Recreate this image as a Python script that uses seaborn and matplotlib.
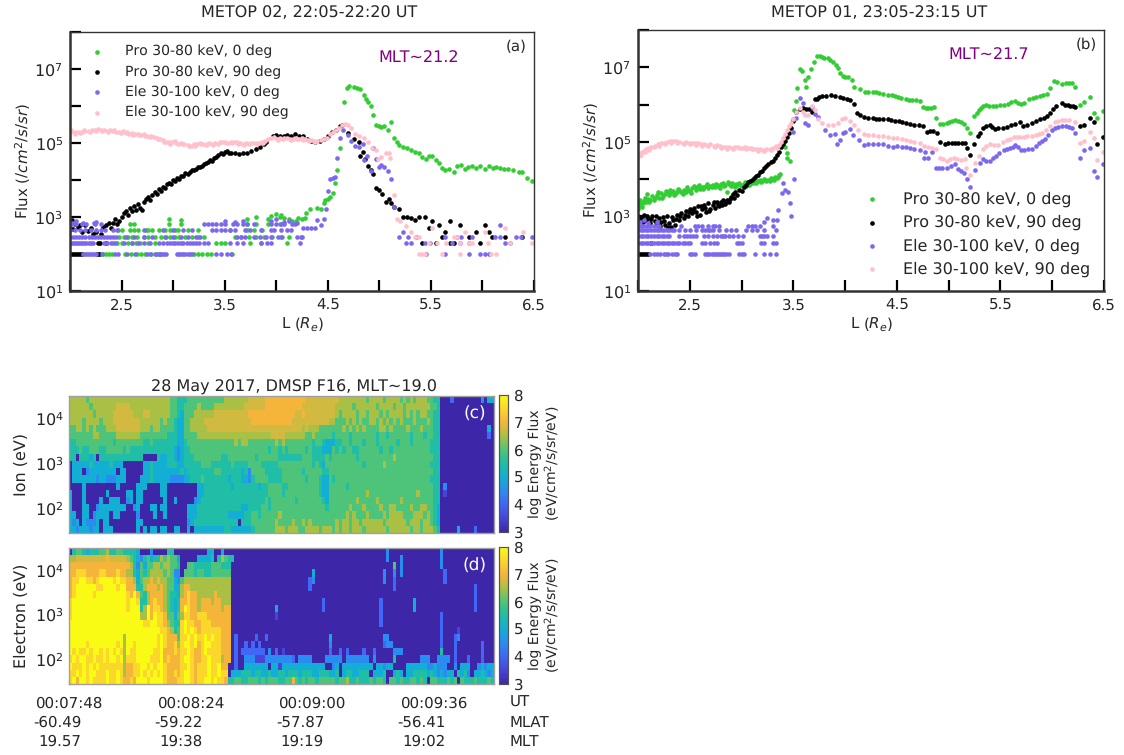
"""
Energetic particle flux from METOP and DMSP spectrograms, 28 May 2017.
"""

import numpy as np
import pandas as pd
import matplotlib
matplotlib.use('Agg')
import matplotlib.pyplot as plt
from matplotlib.colors import LinearSegmentedColormap
import seaborn as sns

# Values are (L, log10 flux). The *_low dicts are the quantised count levels: {log10 flux: [L, ...]}
a_pro0 = [(2.96,2.95),(3.08,2.92),(3.72,2.95),(3.8,3.0),(3.92,2.95),(3.95,3.02),(4.0,3.08),(4.04,3.0),(4.05,3.05),(4.08,2.98),(4.12,2.95),(4.15,2.9),(4.19,2.9),(4.21,2.96),(4.25,2.94),(4.28,2.96),(4.29,3.1),(4.33,3.21),(4.4,3.24),(4.43,3.21),(4.46,3.37),(4.47,3.46),(4.5,3.5),(4.52,3.55),(4.55,3.66),(4.57,3.93),(4.59,4.27),(4.62,4.86),(4.66,6.12),(4.69,6.48),(4.71,6.54),(4.75,6.52),(4.78,6.5),(4.81,6.45),(4.85,6.3),(4.87,6.2),(4.89,6.12),(4.92,6.0),(4.94,5.76),(4.97,5.49),(5.0,5.46),(5.02,5.44),(5.05,5.46),(5.08,5.35),(5.11,5.56),(5.14,5.13),(5.17,5.04),(5.19,4.95),(5.23,4.9),(5.27,4.86),(5.31,4.81),(5.35,4.75),(5.38,4.74),(5.41,4.63),(5.45,4.57),(5.48,4.66),(5.51,4.66),(5.55,4.54),(5.58,4.47),(5.61,4.33),(5.64,4.27),(5.68,4.29),(5.72,4.22),(5.75,4.38),(5.79,4.41),(5.83,4.29),(5.86,4.36),(5.9,4.38),(5.94,4.32),(5.98,4.38),(6.02,4.29),(6.06,4.38),(6.1,4.32),(6.13,4.36),(6.17,4.32),(6.21,4.3),(6.25,4.29),(6.3,4.27),(6.35,4.21),(6.38,4.21),(6.43,4.05),(6.48,3.96)]
a_pro0_low = {
    2.0: [2.16,2.29,2.32,2.35,2.38,2.41,2.53,2.59,2.65,2.69,2.73,2.79,2.83,2.87,3.2,3.24,3.28,3.33,3.37,3.57],
    2.29: [2.28,2.42,2.46,2.5,2.56,2.6,2.64,2.68,2.76,2.82,3.42,3.46,3.5,3.75,3.85,4.1],
    2.47: [2.48,2.52,2.56,2.6,2.65,2.72,2.76,2.82,2.88,2.93,2.97,3.02,3.06,3.12,3.18,3.24,3.3,3.6,3.66,3.74,3.8,3.88,3.96,4.06,4.12],
    2.65: [2.47,2.5,2.58,2.62,2.66,2.74,2.76,2.8,2.86,2.92,2.97,3.02,3.05,3.14,3.24,3.55,3.72,3.78,3.86],
    2.81: [2.58,2.62,2.96,3.08,3.72,3.8,3.92,4.04],
}
a_pro90 = [(2.0,2.85),(2.0,2.7),(2.02,2.93),(2.03,2.68),(2.05,2.8),(2.08,2.72),(2.1,2.78),(2.12,2.6),(2.15,2.78),(2.17,2.62),(2.2,2.7),(2.22,2.55),(2.25,2.6),(2.3,2.55),(2.32,2.72),(2.35,2.78),(2.38,2.85),(2.4,2.7),(2.42,2.85),(2.44,2.95),(2.46,2.8),(2.48,2.9),(2.5,3.0),(2.52,3.1),(2.54,3.15),(2.56,3.05),(2.58,3.25),(2.6,3.15),(2.62,3.3),(2.64,3.2),(2.66,3.35),(2.68,3.25),(2.7,3.2),(2.72,3.4),(2.74,3.5),(2.76,3.55),(2.78,3.45),(2.8,3.6),(2.82,3.68),(2.84,3.62),(2.86,3.75),(2.88,3.7),(2.9,3.82),(2.92,3.78),(2.94,3.9),(2.96,3.92),(2.98,3.88),(3.0,4.0),(3.02,3.98),(3.04,4.05),(3.06,4.03),(3.08,4.12),(3.1,4.1),(3.12,4.18),(3.14,4.15),(3.16,4.22),(3.18,4.27),(3.2,4.28),(3.22,4.3),(3.24,4.35),(3.26,4.35),(3.28,4.38),(3.3,4.42),(3.32,4.45),(3.34,4.48),(3.36,4.55),(3.38,4.52),(3.4,4.6),(3.42,4.62),(3.44,4.68),(3.46,4.72),(3.48,4.7),(3.5,4.75),(3.52,4.78),(3.54,4.73),(3.56,4.72),(3.6,4.72),(3.64,4.7),(3.68,4.72),(3.72,4.74),(3.76,4.78),(3.8,4.84),(3.84,4.9),(3.88,4.97),(3.9,5.02),(3.97,5.2),(4.0,5.21),(4.04,5.2),(4.08,5.18),(4.1,5.22),(4.14,5.2),(4.18,5.23),(4.22,5.2),(4.26,5.18),(4.3,5.1),(4.34,5.05),(4.38,5.02),(4.42,5.05),(4.46,5.1),(4.5,5.2),(4.54,5.3),(4.58,5.35),(4.62,5.45),(4.64,5.49),(4.7,5.26),(4.75,5.12),(4.8,5.04),(4.84,4.76),(4.81,4.66),(4.86,4.57),(4.89,4.38),(4.92,4.27),(4.94,4.16),(4.97,3.78),(5.0,3.73),(5.03,3.61),(5.06,3.41),(5.09,3.48),(5.11,3.39),(5.14,3.28),(5.19,3.21),(5.23,3.01),(5.27,3.01),(5.31,2.96),(5.35,2.92),(5.38,3.01),(5.44,3.01),(5.51,2.9),(5.48,2.69),(5.58,2.78),(5.69,2.9),(5.78,2.78),(5.64,2.6),(5.61,2.47),(5.87,2.47),(5.94,2.6),(6.02,2.78),(6.06,2.6),(6.09,2.47),(6.22,2.47),(6.38,2.47),(5.41,2.29),(5.55,2.29),(5.69,2.29),(5.72,2.29),(5.98,2.29)]
a_pro90_low = {
    2.0: [2.0,2.02,2.04,2.06,2.08,2.1,2.12,2.26,2.28],
    2.29: [2.27,2.29,2.35],
}
a_ele0 = [(2.02,2.85),(2.06,2.9),(2.13,2.85),(2.23,2.83),(2.25,2.87),(3.5,2.9),(3.6,2.86),(3.68,2.9),(3.95,2.88),(4.0,2.95),(4.08,2.86),(4.12,2.9),(4.2,2.85),(4.23,2.29),(4.25,2.47),(4.26,2.69),(4.3,2.69),(4.34,2.69),(4.38,2.69),(4.43,2.78),(4.46,2.94),(4.4,2.92),(4.48,3.21),(4.5,3.7),(4.52,4.03),(4.55,4.06),(4.57,4.07),(4.59,4.59),(4.62,5.13),(4.65,5.35),(4.7,5.22),(4.73,5.06),(4.76,4.93),(4.8,4.9),(4.84,4.97),(4.88,4.66),(4.85,4.54),(4.92,4.23),(4.94,4.87),(4.97,4.57),(5.0,4.36),(5.02,4.41),(5.05,4.36),(5.08,4.25),(5.11,4.03),(5.14,3.28),(5.23,2.6),(6.17,2.78)]
a_ele0_low = {
    2.0: [2.13,2.15,2.17,2.19,2.21,2.23,2.25,2.31,2.44,2.47,2.55,2.63,2.75,2.78,2.82,2.85,2.87,2.89,2.91,2.93,3.04,3.06,3.08,3.1,3.12,3.14,3.16,3.18,3.42,3.46,3.52,3.56,5.45,5.64,5.87,5.98,6.02,6.06],
    2.29: [2.0,2.02,2.04,2.06,2.08,2.1,2.12,2.14,2.16,2.18,2.2,2.22,2.33,2.36,2.4,2.44,2.52,2.6,2.66,2.72,2.78,2.86,2.9,2.94,2.97,3.0,3.02,3.05,3.08,3.1,3.13,3.16,3.19,3.22,3.25,3.3,3.34,3.55,3.62,3.68,3.85,3.91,3.95,5.26,5.31,5.44,5.49,5.7,5.78,5.87,6.22,6.27],
    2.47: [2.0,2.03,2.06,2.09,2.12,2.15,2.18,2.21,2.24,2.27,2.3,2.33,2.36,2.39,2.42,2.45,2.54,2.62,2.72,2.8,2.92,3.0,3.08,3.14,3.22,3.26,3.62,3.66,3.7,3.78,3.84,3.9,3.95,4.02,4.05,4.2,4.24,5.19,5.28,5.36,5.64,5.75,5.79,5.9,6.12,6.17,6.33,6.37,6.48],
    2.65: [2.0,2.05,2.1,2.15,2.2,2.25,2.3,2.34,2.42,2.46,2.72,2.9,3.0,3.1,3.18,3.38,3.42,3.46,3.5,3.55,3.6,3.7,3.75,3.85,3.95,3.98,4.05,4.1,4.14],
    2.81: [2.02,2.06,2.12,2.16,2.24,2.3,3.3,3.34,3.38,3.42,3.46,3.5,3.58,3.62,3.68,3.72,3.78,3.95,4.0,4.05,4.08,4.15,4.18],
}
a_ele90 = [(2.0,5.32),(2.03,5.3),(2.06,5.29),(2.09,5.31),(2.12,5.29),(2.15,5.32),(2.18,5.33),(2.21,5.34),(2.24,5.36),(2.27,5.37),(2.3,5.36),(2.33,5.34),(2.36,5.33),(2.39,5.35),(2.42,5.32),(2.45,5.3),(2.48,5.31),(2.51,5.33),(2.54,5.27),(2.57,5.25),(2.6,5.27),(2.63,5.24),(2.66,5.25),(2.69,5.22),(2.72,5.23),(2.75,5.18),(2.78,5.15),(2.81,5.17),(2.84,5.14),(2.87,5.1),(2.9,5.07),(2.93,5.04),(2.96,5.02),(2.99,5.03),(3.02,5.06),(3.05,4.98),(3.08,5.0),(3.11,4.97),(3.14,4.95),(3.17,4.93),(3.2,4.96),(3.23,4.98),(3.26,5.0),(3.29,4.97),(3.32,4.95),(3.35,5.0),(3.38,4.97),(3.41,4.99),(3.44,4.98),(3.47,5.02),(3.5,5.02),(3.53,5.0),(3.56,5.03),(3.59,5.03),(3.62,5.02),(3.65,5.0),(3.68,4.98),(3.71,5.0),(3.74,4.97),(3.77,4.99),(3.8,5.01),(3.83,4.99),(3.86,5.03),(3.89,5.06),(3.92,5.1),(3.95,5.13),(3.98,5.15),(4.01,5.12),(4.04,5.14),(4.07,5.1),(4.1,5.13),(4.13,5.11),(4.16,5.12),(4.19,5.14),(4.22,5.12),(4.25,5.13),(4.28,5.1),(4.31,5.08),(4.34,5.07),(4.37,5.05),(4.4,5.06),(4.43,5.08),(4.46,5.1),(4.49,5.13),(4.52,5.24),(4.55,5.3),(4.58,5.35),(4.61,5.4),(4.64,5.49),(4.67,5.52),(4.7,5.48),(4.73,5.4),(4.76,5.24),(4.8,5.19),(4.85,5.13),(4.89,5.04),(4.93,4.86),(4.97,4.81),(4.99,4.58),(5.02,4.63),(5.06,4.74),(5.09,4.74),(5.1,4.6),(5.14,3.6),(5.17,2.95),(5.2,2.9),(5.26,2.77),(5.31,2.6),(5.51,2.69),(5.83,2.6),(6.02,2.6),(6.22,2.69),(6.39,2.6),
           (2.01,5.36),(2.05,5.25),(2.1,5.27),(2.14,5.36),(2.19,5.29),(2.25,5.32),(2.31,5.32),(2.37,5.29),(2.43,5.36),(2.49,5.27),(2.55,5.3),(2.61,5.22),(2.67,5.21),(2.73,5.19),(2.79,5.19),(2.85,5.1),(2.91,5.03),(2.97,4.98),(3.03,5.01),(3.09,4.96),(3.15,4.91),(3.21,4.93),(3.27,4.96),(3.33,4.98),(3.39,4.94),(3.45,5.04),(3.51,4.99),(3.57,5.0),(3.63,4.98),(3.69,4.95),(3.75,5.0),(3.81,4.97),(3.87,5.0),(4.02,5.09),(4.08,5.14),(4.14,5.09),(4.2,5.1),(4.26,5.09),(4.32,5.05),(4.38,5.03)]
a_ele90_low = {
    2.0: [5.38,5.41,5.44,5.61,5.78,6.08,6.13],
    2.29: [5.48,5.56,5.65,5.78,5.87,5.9,6.05,6.27,6.48],
    2.47: [5.35,5.38,5.72,5.75],
}

b_pro0 = [(2.0,3.2),(2.0,3.4),(2.01,3.28),(2.02,3.45),(2.03,3.35),(2.05,3.35),(2.06,3.42),(2.08,3.4),(2.09,3.6),(2.1,3.48),(2.12,3.45),(2.14,3.55),(2.16,3.5),(2.18,3.58),(2.2,3.5),(2.22,3.62),(2.24,3.55),(2.26,3.6),(2.28,3.65),(2.3,3.58),(2.32,3.63),(2.34,3.68),(2.36,3.6),(2.38,3.65),(2.4,3.7),(2.42,3.65),(2.44,3.72),(2.46,3.66),(2.48,3.72),(2.5,3.68),(2.52,3.75),(2.54,3.82),(2.56,3.72),(2.58,3.78),(2.6,3.73),(2.62,3.8),(2.64,3.78),(2.66,3.82),(2.68,3.75),(2.7,3.82),(2.72,3.85),(2.74,3.78),(2.76,3.85),(2.78,3.8),(2.8,3.88),(2.82,3.9),(2.84,3.85),(2.86,3.65),(2.88,3.87),(2.9,3.82),(2.92,3.85),(2.94,3.8),(2.96,3.85),(2.98,3.9),(3.0,3.85),(3.02,3.87),(3.04,3.82),(3.06,3.92),(3.08,3.88),(3.1,3.95),(3.12,3.92),(3.14,3.9),(3.16,3.96),(3.18,3.98),(3.2,3.95),(3.22,4.0),(3.24,3.95),(3.26,3.98),(3.28,4.02),(3.3,4.0),(3.32,4.05),(3.34,4.02),(3.36,4.1),(3.37,4.15),(3.42,4.87),(3.44,4.56),(3.47,4.5),(3.44,4.7),(3.5,5.6),(3.51,5.85),(3.53,6.1),(3.54,6.45),(3.56,6.95),(3.58,6.9),(3.61,6.66),(3.62,6.46),(3.64,6.73),(3.67,6.95),(3.7,7.15),(3.73,7.31),(3.78,7.28),(3.83,7.24),(3.88,7.15),(3.93,6.97),(3.98,6.76),(4.03,6.75),(4.07,6.66),(4.09,6.46),(4.14,6.41),(4.19,6.33),(4.27,6.33),(4.37,6.28),(4.45,6.27),(4.51,6.19),(4.59,6.14),(4.72,6.1),(4.75,5.93),(4.8,5.9),(4.86,5.94),(4.88,5.65),(4.92,5.47),(4.98,5.5),(5.06,5.59),(5.12,5.54),(5.15,5.48),(5.18,5.36),(5.21,5.23),(5.24,5.7),(5.29,5.85),(5.33,5.96),(5.43,5.97),(5.53,5.99),(5.64,6.1),(5.7,6.01),(5.78,6.14),(5.88,6.23),(5.95,6.28),(5.98,6.44),(6.02,6.63),(6.09,6.55),(6.19,6.59),(6.22,6.48),(6.27,5.99),(6.31,6.08),(6.36,6.19),(6.4,5.77),(6.43,5.63),(6.49,5.84),
          (3.76,7.3),(3.8,7.26),(3.85,7.2),(3.91,7.05),(3.95,6.85),(4.0,6.75),(4.22,6.34),(4.3,6.33),(4.33,6.3),(4.41,6.27),(4.48,6.23),(4.54,6.18),(4.62,6.13),(4.65,6.12),(4.68,6.11),(4.78,5.91),(4.83,5.91),(4.95,5.48),(5.0,5.52),(5.03,5.57),(5.09,5.56),(5.27,5.78),(5.31,5.92),(5.36,5.98),(5.39,5.97),(5.46,5.97),(5.5,5.98),(5.57,6.02),(5.6,6.06),(5.67,6.05),(5.73,6.05),(5.81,6.17),(5.84,6.2),(5.91,6.26),(6.05,6.6),(6.13,6.57),(6.16,6.58),
          (2.0,3.3),(2.04,3.25),(2.07,3.5),(2.11,3.38),(2.15,3.45),(2.19,3.66),(2.23,3.5),(2.27,3.68),(2.31,3.7),(2.35,3.58),(2.39,3.74),(2.43,3.6),(2.47,3.78),(2.51,3.62),(2.55,3.78),(2.59,3.85),(2.63,3.73),(2.67,3.88),(2.71,3.78),(2.75,3.88),(2.79,3.75),(2.83,3.82),(2.87,3.92),(2.91,3.9),(2.95,3.88),(2.99,3.82),(3.03,3.92),(3.07,3.85),(3.11,3.9),(3.15,3.94),(3.19,3.92),(3.23,3.97),(3.27,3.94),(3.31,3.97),(3.35,4.06)]
b_pro90 = [(2.0,3.0),(2.02,2.98),(2.04,2.95),(2.06,3.05),(2.08,2.9),(2.1,2.95),(2.12,2.82),(2.14,3.02),(2.16,2.88),(2.18,2.8),(2.2,2.95),(2.22,2.85),(2.24,2.98),(2.26,2.78),(2.28,3.0),(2.3,2.82),(2.32,2.72),(2.34,2.9),(2.36,2.78),(2.38,3.05),(2.4,2.9),(2.42,3.1),(2.44,2.95),(2.46,3.15),(2.48,3.02),(2.5,3.2),(2.52,3.08),(2.54,3.22),(2.56,3.12),(2.58,3.28),(2.6,3.05),(2.62,3.2),(2.64,3.3),(2.66,3.12),(2.68,3.35),(2.7,3.2),(2.72,3.3),(2.74,3.22),(2.76,3.4),(2.78,3.28),(2.8,3.38),(2.82,3.45),(2.84,3.33),(2.86,3.45),(2.88,3.38),(2.9,3.52),(2.92,3.6),(2.94,3.65),(2.96,3.58),(2.98,3.72),(3.0,3.68),(3.02,3.8),(3.04,3.85),(3.06,3.92),(3.08,3.95),(3.1,3.98),(3.12,4.02),(3.14,4.08),(3.16,4.12),(3.18,4.18),(3.2,4.22),(3.22,4.3),(3.24,4.35),(3.26,4.4),(3.28,4.45),(3.3,4.5),(3.32,4.58),(3.34,4.65),(3.36,4.72),(3.38,4.85),(3.4,4.95),(3.42,5.02),(3.44,5.12),(3.46,5.25),(3.48,5.38),(3.5,5.55),(3.53,5.8),(3.56,5.88),(3.59,5.9),(3.62,5.87),(3.65,5.88),(3.68,5.8),(3.71,6.14),(3.73,6.15),(3.75,6.2),(3.78,6.22),(3.82,6.24),(3.86,6.25),(3.9,6.22),(3.95,6.19),(4.05,6.12),(4.09,6.01),(4.11,5.78),(4.18,5.67),(4.27,5.63),(4.37,5.61),(4.48,5.57),(4.59,5.5),(4.75,5.43),(4.79,5.27),(4.85,5.3),(4.89,5.25),(4.92,5.0),(4.96,4.94),(5.03,4.98),(5.09,4.98),(5.16,4.98),(5.18,4.83),(5.21,4.65),(5.24,4.94),(5.28,5.16),(5.33,5.38),(5.4,5.45),(5.45,5.34),(5.56,5.41),(5.69,5.54),(5.72,5.43),(5.88,5.6),(5.98,5.77),(6.04,5.96),(6.09,6.05),(6.17,5.96),(6.22,5.93),(6.27,5.43),(6.31,5.44),(6.36,5.63),(6.4,5.52),(6.43,4.94),(6.49,5.12),
           (4.14,5.72),(4.22,5.65),(4.3,5.62),(4.33,5.62),(4.41,5.6),(4.44,5.58),(4.52,5.55),(4.55,5.53),(4.63,5.48),(4.67,5.46),(4.71,5.45),(4.82,5.29),(4.99,4.96),(5.06,4.98),(5.13,4.98),(5.3,5.25),(5.36,5.42),(5.42,5.4),(5.48,5.36),(5.52,5.38),(5.6,5.44),(5.64,5.47),(5.76,5.45),(5.8,5.5),(5.84,5.55),(5.92,5.64),(5.95,5.7),(6.01,5.87),(6.12,6.0),(6.15,5.98),(6.2,5.95),(3.98,6.18),(4.02,6.15),
           (2.01,2.88),(2.05,2.85),(2.09,3.02),(2.13,2.92),(2.17,3.0),(2.21,2.75),(2.25,2.88),(2.29,2.72),(2.33,2.98),(2.37,2.92),(2.41,3.0),(2.45,3.05),(2.49,3.12),(2.53,3.18),(2.57,3.02),(2.61,3.28),(2.65,3.22),(2.69,3.15),(2.73,3.4),(2.77,3.3),(2.81,3.3),(2.85,3.38),(2.89,3.48),(2.93,3.5)]
b_pro90_low = {
    2.0: [2.0,2.02,2.04,2.06,2.08,2.1],
    2.3: [2.13],
}
b_ele0 = [(2.02,2.85),(2.06,2.9),(2.1,2.82),(2.18,2.85),(3.22,2.85),(3.25,2.95),(3.3,2.9),(3.34,2.9),(3.35,3.17),(3.39,3.62),(3.4,3.89),(3.42,3.71),(3.45,3.66),(3.47,3.35),(3.48,3.0),(3.51,4.0),(3.5,5.27),(3.53,5.63),(3.56,6.17),(3.59,6.03),(3.61,5.5),(3.64,5.45),(3.68,5.94),(3.71,5.76),(3.74,5.68),(3.81,5.32),(3.85,5.18),(3.9,5.2),(3.92,4.93),(3.95,5.05),(3.98,5.23),(4.0,5.27),(4.05,5.34),(4.08,5.18),(4.13,5.05),(4.18,4.92),(4.27,4.94),(4.37,4.93),(4.46,4.87),(4.59,4.87),(4.67,4.81),(4.72,4.78),(4.77,4.74),(4.76,4.57),(4.8,4.58),(4.84,4.72),(4.88,4.31),(4.98,4.31),(5.06,4.4),(5.09,4.27),(5.15,4.17),(5.18,4.0),(5.21,3.78),(5.25,4.25),(5.3,4.42),(5.33,4.53),(5.4,4.5),(5.46,4.62),(5.53,4.78),(5.59,4.83),(5.64,4.92),(5.7,4.78),(5.8,4.81),(5.87,4.96),(5.93,5.09),(6.0,5.32),(6.09,5.43),(6.19,5.36),(6.22,5.25),(6.27,4.58),(6.31,4.78),(6.36,4.83),(6.4,4.23),(6.43,4.07),(6.49,4.4),
          (4.22,4.93),(4.32,4.94),(4.41,4.9),(4.5,4.88),(4.55,4.87),(4.63,4.84),(4.91,4.31),(4.94,4.3),(5.02,4.36),(5.12,4.23),(5.36,4.5),(5.43,4.56),(5.49,4.7),(5.56,4.8),(5.62,4.87),(5.67,4.85),(5.73,4.79),(5.77,4.8),(5.84,4.9),(5.9,5.03),(5.96,5.18),(6.03,5.37),(6.06,5.4),(6.13,5.42),(6.16,5.4)]
b_ele0_low = {
    2.0: [2.12,2.15,2.18,2.21,2.25,2.27,2.29,2.33,2.36,2.38,2.5,2.52,2.55,2.65,2.67,2.69,2.71,2.73,2.75,2.77,2.79,2.81,2.83,2.85,2.88,2.98,3.0,3.02,3.13,3.22,3.27,3.33],
    2.3: [2.0,2.03,2.05,2.08,2.1,2.13,2.15,2.18,2.2,2.23,2.25,2.28,2.3,2.33,2.35,2.38,2.4,2.43,2.45,2.48,2.5,2.62,2.65,2.7,2.73,2.76,2.96,2.98,3.0,3.19,3.22,3.3,3.33],
    2.48: [2.0,2.03,2.05,2.08,2.1,2.13,2.15,2.18,2.2,2.23,2.25,2.28,2.3,2.4,2.44,2.47,2.5,2.53,2.56,2.64,2.68,2.72,2.76,2.8,2.82,2.84,2.88,2.92,2.97,3.01,3.18,3.2,3.22,3.25,3.3],
    2.64: [2.0,2.03,2.05,2.08,2.1,2.13,2.15,2.18,2.2,2.23,2.25,2.28,2.3,2.33,2.35,2.4,2.45,2.5,2.56,2.62,2.65,2.68,2.7,2.72,2.78,2.85,2.9,2.95,3.04,3.1,3.15,3.22,3.33],
    2.75: [2.0,2.03,2.06,2.09,2.12,2.15,2.18,2.2,2.42,2.55,2.58,2.62,2.68,2.72,2.74,2.78,3.06,3.1,3.13,3.18,3.3],
}
b_ele90 = [(2.0,4.65),(2.02,4.7),(2.04,4.73),(2.06,4.76),(2.08,4.8),(2.1,4.83),(2.13,4.86),(2.16,4.9),(2.19,4.93),(2.22,4.96),(2.25,4.98),(2.28,5.0),(2.31,5.01),(2.34,5.02),(2.37,5.02),(2.4,5.0),(2.43,4.98),(2.46,5.0),(2.49,4.97),(2.52,4.98),(2.55,4.96),(2.58,4.97),(2.61,4.93),(2.64,4.94),(2.67,4.92),(2.7,4.93),(2.73,4.9),(2.76,4.91),(2.79,4.88),(2.82,4.86),(2.85,4.85),(2.88,4.86),(2.91,4.83),(2.94,4.85),(2.97,4.87),(3.0,4.84),(3.03,4.85),(3.06,4.83),(3.09,4.84),(3.12,4.81),(3.15,4.8),(3.18,4.8),(3.21,4.78),(3.24,4.8),(3.27,4.82),(3.3,4.83),(3.33,4.88),(3.36,4.92),(3.38,5.0),(3.4,5.1),(3.42,5.22),(3.44,5.32),(3.46,5.42),(3.48,5.5),(3.5,5.6),(3.53,5.81),(3.56,5.9),(3.59,5.8),(3.61,5.72),(3.64,5.72),(3.68,5.96),(3.71,5.85),(3.74,5.6),(3.78,5.5),(3.83,5.46),(3.88,5.45),(3.93,5.5),(3.97,5.6),(4.0,5.63),(4.05,5.57),(4.09,5.45),(4.12,5.32),(4.18,5.2),(4.27,5.18),(4.37,5.16),(4.46,5.11),(4.59,5.05),(4.72,4.96),(4.8,4.85),(4.88,4.81),(4.92,4.57),(5.01,4.54),(5.08,4.54),(5.16,4.53),(5.17,4.29),(5.21,4.11),(5.25,4.44),(5.33,4.81),(5.4,4.94),(5.48,4.92),(5.59,5.09),(5.69,5.14),(5.8,5.16),(5.9,5.23),(5.98,5.43),(6.03,5.54),(6.12,5.59),(6.22,5.52),(6.27,4.98),(6.31,5.02),(6.36,5.27),(6.4,5.11),(6.43,4.51),(6.49,4.72),
           (4.22,5.19),(4.32,5.17),(4.41,5.14),(4.5,5.1),(4.55,5.07),(4.63,5.02),(4.67,5.0),(4.76,4.9),(4.84,4.83),(4.95,4.55),(4.98,4.5),(5.05,4.57),(5.12,4.52),(5.29,4.62),(5.36,4.88),(5.44,4.92),(5.52,5.0),(5.56,5.05),(5.63,5.12),(5.66,5.13),(5.73,5.13),(5.76,5.16),(5.84,5.18),(5.87,5.2),(5.94,5.32),(6.06,5.57),(6.09,5.58),(6.16,5.58),
           (2.0,4.6),(2.03,4.66),(2.07,4.72),(2.11,4.78),(2.15,4.85),(2.2,4.88),(2.26,4.94),(2.32,4.97),(2.38,4.98),(2.44,4.94),(2.5,4.93),(2.56,4.92),(2.62,4.89),(2.68,4.88),(2.74,4.86),(2.8,4.84),(2.86,4.81),(2.92,4.8),(2.98,4.83),(3.04,4.81),(3.1,4.8),(3.16,4.76),(3.22,4.75),(3.28,4.78),(3.34,4.84)]

# DMSP channel energies (eV), highest first
energy_ev = [30000, 20400, 13900, 9450, 6460, 4400, 3000, 2040, 1392, 949, 646, 440, 300, 204, 139, 95, 65, 44, 30]
energy_edges = (4.49, 1.44)  # log10 eV at the top and bottom of the axis

# One character per second, groups of ten: 0..9, a mean log flux 3.0..8.0 in half steps, b is 6.75
ion_rows = [
    "7777767777 7777777777 7777777777 6655566666 6666667777 777bbbbb88 8888888888 bbbbbbbbbb 7777777767 7776777767 6767776655 0002000000 003044",
    "7777776777 7777bbbb77 7777777777 6655666676 6667777777 77bbbbbb88 888888888b bbbbbbbbb7 7777677777 7677776776 7777777665",
    "7777777677 777bbbbbb7 77bb777777 6654666777 777bbbbbbb bbb8888888 8888888bb8 bbbbbbbbb7 6777767767 7767677776 7676776655",
    "7777677776 777bbbbbbb b777777676 6544667777 bbbbbbbbbb bbbb888888 888888bbbb bbbbbbb776 6676767667 7676767676 6676667655",
    "6677676766 6777bbbbbb b777677666 6544667777 7bbbbbbbbb bbbbbbbbbb bbbbbbbbb7 b777666666 6767676766 6677676666 7666766655 0000000000 000040",
    "6666666776 6666777777 7666666665 5544666677 7777777777 7777777777 bbbb777777 6676666656 6665666666 6566566666 6566656655 0000000000 000020",
    "5566666666 6665666666 6655655555 5544566666 6666666667 6776666666 6767666666 6656654445 5665666566 6566666566 6566666555",
    "5556556665 5666665655 5555555555 5434556666 6666666666 6666666665 6656566666 5655544465 6566556666 6656656666 6666666555",
    "5505554505 5555555555 5500005445 5434555666 6666655666 6666656666 6655555556 6655556566 6666656666 6666667666 6666666655",
    "0444445444 4454440000 0044544445 5544555556 6655555565 5556666555 5566666666 6656546666 6666666566 6667666666 6666666555",
    "0444034444 4444044000 0044544444 4445455555 5556655555 5453666655 5556666665 6666655666 6666666666 6666666666 6666666655",
    "0444444434 4333444000 0444544444 3333445556 5555555455 5443566665 5556666666 5666544656 6666666666 6666666666 6666666555",
    "0000400000 0000400000 4440000440 0000000044 5555555545 5555554556 6665566666 6666544666 6656666666 6666666666 6666666655 0300000000",
    "4000400000 0400000440 4400000440 0000000044 5555555555 5555555556 6665666666 6666544666 6666666676 6666666666 6667666655 0100000000",
    "4000400004 0044400340 4400000040 0400000345 5555555555 5555555565 6666666566 6666654666 6666676666 6766666676 6666666655",
    "4000440034 4444444003 4000440440 0000044455 5555555555 5445555665 6666666666 6666665666 6667666766 6676677666 6766776654",
    "4400440344 4404400000 3000040040 0000044455 5555555444 4455665666 6676666666 6666666666 6676766676 6667677776 6677767654",
    "4340433340 4400000000 4400000000 0000034555 5555555555 0555666666 6766667667 6766666667 6776776777 7776777777 6777677654",
    "4434443440 4440000000 4040440440 0440040444 4444445544 4444566666 6777677766 7777677767 6776777677 7777677777 7677677765 0000040000 200000",
]
ele_rows = [
    "0566545556 6755665555 4000300005 5000000000 0440040000 0000000000 0000000000 0000000000 0000000000 0000300000 0000000000 3000000000",
    "77bbbbbbbb b8bbbbb765 4356455767 6640000044 4450576550 0000000000 0000000000 0000000000 0000000000 0000300030 0000000000 3000000000",
    "8888888888 8888888875 3646677677 6650066555 5566655500 0000000000 0000000000 0000000000 0000000000 0000006030 0000000000 3000000000",
    "8899988889 9888988775 4656777767 6330666566 5566666600 0000000000 0000000000 0040000000 0000000000 0003003030 0000000000 0200000000",
    "899aa9989a aaa9a99887 4677878776 6436777777 7777777700 0000000000 0000000000 0230000000 0000000000 0003002000 0000000000 0200000000",
    "89aaaaaa99 aaaa9aa888 5578887876 6447887777 7777777700 0000000000 0000000000 0200000000 0000000000 0000002000 0000000000 0000000000 200000",
    "89aaaaa9aa aaaaaaa98a 8657888876 5547898877 7778777700 0000000000 0000000000 0000000000 0000000000 0000000000 0000000000 0000000000 200000",
    "9aaaaaaaaa aaaaaaa9aa 9557898876 5458898878 8878877700 0000000000 0000000000 0000020000 0000000000 0020000000 0040000000 0000000000 200000",
    "9aaaaaaaaa aaaaaaa9aa a57a899876 5458a98878 8888878800 0000000000 0400000000 0000020000 0000000000 0020000000 0040000000 0000000000 200000",
    "9aaaaaaaaa aaaaaaaaaa a77a8a9986 6467998899 9888888800 0000000000 0100000000 0000000000 0000000000 0020000000 0000000000 2000000000",
    "aaaaaaaaaa aaaaaaaaaa aa99aa9987 6559a99889 9988888800 0000000000 0000000000 0000000000 0000000000 0020000000 0000000000 2000000000",
    "aaaaaaaaaa aaaaaaaaaa aaaaaaa998 7569a9a989 9999988800 0000000000 0000000000 0000000000 0000000000 0000000000 0000000000 2000010000",
    "aaaaaaaaaa aaaaaa7aaa aaaaaa9a98 88699a9a99 a9a9988802 0000020020 0000000000 0000000400 0000000000 0003300000 0000000000 2000230000",
    "aaaaa9aaaa aaaa9a7aa9 aaaaaa9a98 8979aa9a89 aa99988802 0020202000 0000000000 0000000300 0000000000 0002330000 0000000000 2000200000 002000",
    "a9a99a9aa9 a9a9a97a99 aaaaa99a88 89899a9889 a999988802 0222222203 0201000000 0000000200 2020000200 2000003330 0000000000 5000200000 002000",
    "9a9aa99a99 a9aa9a7999 aaaa999a89 8889aa9889 9a99978802 0033311133 3333332033 3300003333 3033333330 3000005000 0000333003 3330200020 002000",
    "a999a9a9a9 9999997889 9aa9a9aa98 88899a9899 9a99a88002 0044444440 4414444444 4444440034 0444444444 0443440000 4444443343 3300304440 034344",
    "99a9a9aa99 9a99a97889 9a9a9a9a98 8989aa9899 9a99a99044 4555455445 4455455545 5544555445 0455445550 4445004540 4455554543 4344054530 445434",
    "9a8aa9a999 9a99a98898 aaa9aaaa98 8899aa9899 aa9a998556 6556665656 6655668656 5665666665 6675565556 5665066565 5665650665 5565606555 655565",
]

species_labels = ['Pro 30-80 keV, 0 deg', 'Pro 30-80 keV, 90 deg', 'Ele 30-100 keV, 0 deg', 'Ele 30-100 keV, 90 deg']
species_colors = ['limegreen', 'black', 'mediumslateblue', 'pink']
flux_ticks = [1e1, 1e2, 1e3, 1e4, 1e5, 1e6, 1e7, 1e8]
l_ticks = [2, 2.5, 3, 3.5, 4, 4.5, 5, 5.5, 6, 6.5]
time_ticks = [0, 36, 72, 108]
ut_labels = ['00:07:48', '00:08:24', '00:09:00', '00:09:36']
mlat_labels = ['-60.49', '-59.22', '-57.87', '-56.41']
mlt_labels = ['19.57', '19:38', '19:19', '19:02']
parula_colors = ['#3e26a8', '#4646d8', '#4067f5', '#2a8cf0', '#12aed4', '#1fbda8', '#4ec47a', '#a8c044', '#f5b53a', '#fcd62b', '#f9fb15']

WIDTH, HEIGHT = 1124, 755
N_SECONDS = 126


def px_axes(fig, left, top, right, bottom):
    """Axes placed by image pixel edges."""
    return fig.add_axes([left / WIDTH, 1 - bottom / HEIGHT, (right - left) / WIDTH, (bottom - top) / HEIGHT])


def px_text(fig, x, y, s, **kwargs):
    fig.text(x / WIDTH, 1 - y / HEIGHT, s, **kwargs)


def to_frame(points, low=None):
    rows = list(points)
    for level, shells in (low or {}).items():
        rows += [(shell, level) for shell in shells]
    df = pd.DataFrame(rows, columns=['L', 'log_flux'])
    df['flux'] = 10 ** df['log_flux']
    return df


def decode_rows(rows):
    cells = []
    for row in rows:
        codes = row.replace(' ', '').ljust(N_SECONDS, '0')[:N_SECONDS]
        cells.append([6.75 if c == 'b' else 3 + int(c, 16) / 2 for c in codes])
    return pd.DataFrame(cells)


def flux_panel(ax, series, legend_kws, letter, mlt, mlt_xy):
    for df, label, color in zip(series, species_labels, species_colors):
        sns.scatterplot(data=df, x='L', y='flux', color=color, s=11, linewidth=0, label=label, ax=ax)
    ax.set_yscale('log')
    ax.set_xlim(2, 6.5)
    ax.set_ylim(1e1, 1e8)
    ax.set_yticks(flux_ticks)
    ax.set_yticklabels(['$10^{%d}$' % np.log10(t) if np.log10(t) % 2 else '' for t in flux_ticks], fontsize=11.5)
    ax.minorticks_off()
    ax.set_xticks(l_ticks)
    ax.set_xticklabels(['%.1f' % t if (t * 2) % 2 else '' for t in l_ticks], fontsize=11)
    ax.tick_params(axis='both', which='major', direction='in', length=8, width=1.6, color='black', pad=5,
                   labelcolor='#262626')
    ax.set_xlabel('L ($R_e$)', fontsize=11, labelpad=2, color='#262626')
    ax.set_ylabel('Flux ($/cm^2/s/sr$)', fontsize=11, labelpad=1, color='#262626')
    for side, spine in ax.spines.items():
        spine.set_visible(True)
        spine.set_color('#333333')
        spine.set_linewidth(1.8 if side in ('left', 'bottom') else 1.0)
    legend = ax.legend(frameon=False, **legend_kws)
    for text in legend.get_texts():
        text.set_color('#262626')
    ax.text(0.985, 0.97, letter, transform=ax.transAxes, ha='right', va='top', fontsize=11, color='#262626')
    ax.text(mlt_xy[0], mlt_xy[1], mlt, transform=ax.transAxes, ha='center', va='center', fontsize=11.5, color='purple')


def spectrogram(ax, cax, rows, ylabel, letter):
    cmap = LinearSegmentedColormap.from_list('parula', parula_colors)
    sns.heatmap(decode_rows(rows), cmap=cmap, vmin=3, vmax=8, ax=ax, cbar_ax=cax,
                xticklabels=False, yticklabels=False, cbar_kws={'ticks': [3, 4, 5, 6, 7, 8]})
    top, bottom = energy_edges
    per_decade = len(energy_ev) / (top - bottom)
    ax.set_yticks([(top - d) * per_decade for d in (4, 3, 2)])
    ax.set_yticklabels(['$10^4$', '$10^3$', '$10^2$'], fontsize=11.5, color='#262626', rotation=0)
    minor = [e * 10 ** d for d in (1, 2, 3, 4) for e in (2, 3, 4, 5, 6, 7, 8, 9)]
    minor = [m for m in minor if bottom < np.log10(m) < top]
    ax.set_yticks([(top - np.log10(m)) * per_decade for m in minor], minor=True)
    ax.tick_params(axis='y', which='major', direction='in', length=3, width=0.8, pad=4, color='black')
    ax.tick_params(axis='y', which='minor', direction='in', length=1.5, width=0.6, left=True)
    ax.set_ylabel(ylabel, fontsize=11.5, color='#262626', labelpad=4)
    for spine in ax.spines.values():
        spine.set_visible(True)
        spine.set_color('#a0a0a0')
        spine.set_linewidth(1.0)
    ax.text(0.955, 0.93, letter, transform=ax.transAxes, ha='center', va='top', fontsize=12, color='white')
    cax.tick_params(labelsize=11, length=0, pad=4, labelcolor='#262626')
    cax.set_ylabel('log Energy Flux\n(eV/cm$^2$/s/sr/eV)', fontsize=10.2, color='#262626', labelpad=4, linespacing=1.0)
    for spine in cax.spines.values():
        spine.set_visible(True)
        spine.set_color('#555555')
        spine.set_linewidth(0.8)


def main():
    sns.set_style('ticks')
    plt.rcParams['font.family'] = ['DejaVu Sans']
    plt.rcParams['text.hinting'] = 'no_hinting'
    plt.rcParams['text.hinting_factor'] = 1
    fig = plt.figure(figsize=(WIDTH / 100, HEIGHT / 100), dpi=100)

    ax_a = px_axes(fig, 70, 32, 534, 291)
    ax_b = px_axes(fig, 638, 30, 1104, 291)
    ax_c = px_axes(fig, 69, 396, 494, 533)
    ax_d = px_axes(fig, 69, 548, 494, 684)
    cax_c = px_axes(fig, 499, 395, 508, 532)
    cax_d = px_axes(fig, 499, 547, 508, 684)

    series_a = [to_frame(a_pro0, a_pro0_low), to_frame(a_pro90, a_pro90_low),
                to_frame(a_ele0, a_ele0_low), to_frame(a_ele90, a_ele90_low)]
    series_b = [to_frame(b_pro0), to_frame(b_pro90, b_pro90_low),
                to_frame(b_ele0, b_ele0_low), to_frame(b_ele90)]

    flux_panel(ax_a, series_a, dict(loc='upper left', bbox_to_anchor=(0.0, 1.0), fontsize=10.2, labelspacing=0.48,
                                    handletextpad=0.95, markerscale=1.0), '(a)', 'MLT~21.2', (0.752, 0.9))
    flux_panel(ax_b, series_b, dict(loc='lower right', bbox_to_anchor=(1.0, 0.0), fontsize=11.3, labelspacing=0.5,
                                    handletextpad=0.95, markerscale=1.0), '(b)', 'MLT~21.7', (0.752, 0.905))

    px_text(fig, 309, 13, 'METOP 02, 22:05-22:20 UT', ha='center', va='center', fontsize=11.3, color='#262626')
    px_text(fig, 879, 13, 'METOP 01, 23:05-23:15 UT', ha='center', va='center', fontsize=11.3, color='#262626')

    spectrogram(ax_c, cax_c, ion_rows, 'Ion (eV)', '(c)')
    spectrogram(ax_d, cax_d, ele_rows, 'Electron (eV)', '(d)')
    px_text(fig, 294, 387, '28 May 2017, DMSP F16, MLT~19.0', ha='center', va='center', fontsize=11.3, color='#262626')

    ax_d.set_xticks(time_ticks)
    ax_d.set_xticklabels(ut_labels, fontsize=10.5, color='#262626', rotation=0)
    ax_d.tick_params(axis='x', direction='in', length=3, width=0.8, pad=9, bottom=True)

    for tick, mlat, mlt in zip(time_ticks, mlat_labels, mlt_labels):
        x_px = 69 + tick * 425 / N_SECONDS
        px_text(fig, x_px - 36, 723, mlat, ha='left', va='center', fontsize=10.5, color='#262626')
        px_text(fig, x_px - 31, 742, mlt, ha='left', va='center', fontsize=10.5, color='#262626')
    for y_px, label in zip((703, 723, 742), ('UT', 'MLAT', 'MLT')):
        px_text(fig, 510, y_px, label, ha='left', va='center', fontsize=10.5, color='#262626')

    fig.savefig('out.png', dpi=100)


if __name__ == '__main__':
    main()
